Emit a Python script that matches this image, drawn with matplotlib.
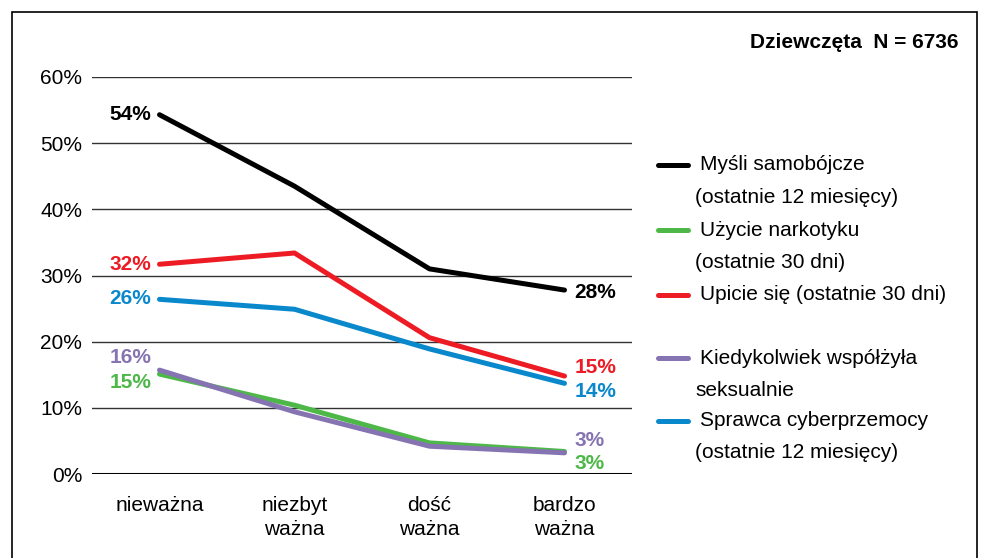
import matplotlib.pyplot as plt
from matplotlib.lines import Line2D
from matplotlib.patches import Rectangle

plt.rcParams['font.family'] = ['Liberation Sans', 'DejaVu Sans']

categories = ['nieważna', 'niezbyt\nważna', 'dość\nważna', 'bardzo\nważna']
mysli = [54.3, 43.5, 31.0, 27.8]
narkotyk = [15.1, 10.4, 4.7, 3.4]
upicie = [31.7, 33.4, 20.6, 14.8]
seks = [15.7, 9.4, 4.2, 3.2]
cyber = [26.4, 24.9, 18.9, 13.7]
yticks = [0, 10, 20, 30, 40, 50, 60]

series = [
    ('Myśli samobójcze\n(ostatnie 12 miesięcy)', mysli, '#000000'),
    ('Użycie narkotyku\n(ostatnie 30 dni)', narkotyk, '#4db848'),
    ('Upicie się (ostatnie 30 dni)', upicie, '#ed1c24'),
    ('Kiedykolwiek współżyła\nseksualnie', seks, '#8574b1'),
    ('Sprawca cyberprzemocy\n(ostatnie 12 miesięcy)', cyber, '#0a88cc'),
]

# pixel offsets of the value labels: (first point dy, last point dy)
label_dy = {
    '#000000': (0, -2),
    '#4db848': (-8, -12),
    '#ed1c24': (0, 9),
    '#8574b1': (13, 12),
    '#0a88cc': (1, -8),
}

fs = 15

fig = plt.figure(figsize=(9.82, 5.58), dpi=100)
ax = fig.add_axes([92 / 982, 1 - 474 / 558, 540 / 982, 397 / 558])

x = [i + 0.5 for i in range(len(categories))]
for name, vals, col in series:
    ax.plot(x, vals, color=col, lw=3.6, solid_capstyle='round',
            solid_joinstyle='round', zorder=3)
    dy0, dy1 = label_dy[col]
    ax.annotate(f'{round(vals[0])}%', (x[0], vals[0]), xytext=(-8, dy0),
                textcoords='offset pixels', ha='right', va='center',
                fontsize=fs, fontweight='bold', color=col)
    ax.annotate(f'{round(vals[-1])}%', (x[-1], vals[-1]), xytext=(10, dy1),
                textcoords='offset pixels', ha='left', va='center',
                fontsize=fs, fontweight='bold', color=col)

ax.set_xlim(0, 4)
ax.set_ylim(0, 60)
ax.set_yticks(yticks)
ax.set_yticklabels([f'{t}%' for t in yticks], fontsize=fs)
ax.set_xticks(x)
ax.set_xticklabels(categories, fontsize=fs, linespacing=1.3, va='top')
ax.tick_params(length=0, pad=7)
ax.tick_params(axis='x', pad=16)
for t in yticks[1:]:
    ax.axhline(t, color='#333333', lw=1, zorder=1)
ax.axhline(0, color='black', lw=2.2, zorder=2)
for s in ax.spines.values():
    s.set_visible(False)

# legend drawn by hand to keep the spacing of the original
leg_y = [165, 230, 295, 358, 421]
for (name, vals, col), ly in zip(series, leg_y):
    yf = 1 - ly / 558
    fig.add_artist(Line2D([658 / 982, 688 / 982], [yf, yf], color=col, lw=3.6,
                          solid_capstyle='round', transform=fig.transFigure))
    lines = name.split('\n')
    fig.text(700 / 982, yf, lines[0], fontsize=fs, va='center', ha='left')
    if len(lines) > 1:
        fig.text(695 / 982, 1 - (ly + 32) / 558, lines[1], fontsize=fs,
                 va='center', ha='left')

fig.text(958 / 982, 1 - 43 / 558, 'Dziewczęta  N = 6736', fontsize=fs,
         fontweight='bold', ha='right', va='center')

fig.add_artist(Rectangle((12 / 982, -0.05), 965 / 982, 1.05 - 12 / 558,
                         transform=fig.transFigure, fill=False,
                         edgecolor='black', lw=1.2))

fig.savefig('out.png', dpi=100)
